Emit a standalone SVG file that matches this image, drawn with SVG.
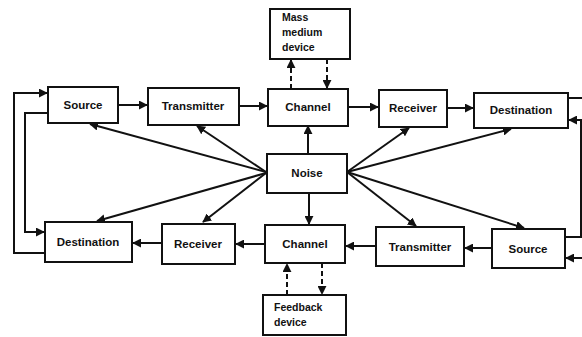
<svg xmlns="http://www.w3.org/2000/svg" width="582" height="337" viewBox="0 0 582 337">
<style>
.box{fill:#fff;stroke:#111;stroke-width:2}
.t{font-family:"Liberation Sans",Arial,sans-serif;font-size:11.5px;font-weight:bold;fill:#111;text-anchor:middle}
.tl{font-family:"Liberation Sans",Arial,sans-serif;font-size:10.5px;font-weight:bold;fill:#111}
.c{fill:none;stroke:#111;stroke-width:2}
.d{fill:none;stroke:#111;stroke-width:2;stroke-dasharray:5 3}
</style>
<defs>
<marker id="a" viewBox="0 0 10 10" refX="9" refY="5" markerWidth="4.5" markerHeight="4.5" orient="auto" markerUnits="strokeWidth">
<path d="M0,0 L10,5 L0,10 z" fill="#111"/>
</marker>
</defs>
<rect width="582" height="337" fill="#fff"/>
<g id="connectors">
<line class="c" x1="118" y1="105" x2="147" y2="105" marker-end="url(#a)"/>
<line class="c" x1="239" y1="106" x2="267" y2="106" marker-end="url(#a)"/>
<line class="c" x1="348" y1="107" x2="378" y2="107" marker-end="url(#a)"/>
<line class="c" x1="447" y1="108" x2="473" y2="108" marker-end="url(#a)"/>
<line class="c" x1="492" y1="248" x2="465" y2="248" marker-end="url(#a)"/>
<line class="c" x1="376" y1="246" x2="346" y2="246" marker-end="url(#a)"/>
<line class="c" x1="265" y1="244" x2="236" y2="244" marker-end="url(#a)"/>
<line class="c" x1="162" y1="243" x2="133" y2="243" marker-end="url(#a)"/>
<line class="d" x1="291" y1="89" x2="291" y2="60" marker-end="url(#a)"/>
<line class="d" x1="327" y1="59" x2="327" y2="88" marker-end="url(#a)"/>
<line class="d" x1="287" y1="295" x2="287" y2="264" marker-end="url(#a)"/>
<line class="d" x1="322" y1="263" x2="322" y2="294" marker-end="url(#a)"/>
<line class="c" x1="308" y1="154" x2="308" y2="126" marker-end="url(#a)"/>
<line class="c" x1="309" y1="193" x2="309" y2="224" marker-end="url(#a)"/>
<line class="c" x1="266" y1="172" x2="90" y2="124" marker-end="url(#a)"/>
<line class="c" x1="266" y1="172" x2="197" y2="126" marker-end="url(#a)"/>
<line class="c" x1="266" y1="173" x2="97" y2="221" marker-end="url(#a)"/>
<line class="c" x1="266" y1="173" x2="203" y2="222" marker-end="url(#a)"/>
<line class="c" x1="347" y1="172" x2="409" y2="128" marker-end="url(#a)"/>
<line class="c" x1="347" y1="172" x2="511" y2="129" marker-end="url(#a)"/>
<line class="c" x1="347" y1="172" x2="416" y2="226" marker-end="url(#a)"/>
<line class="c" x1="347" y1="172" x2="524" y2="228" marker-end="url(#a)"/>
<polyline class="c" points="45,253 14,253 14,93 47,93" marker-end="url(#a)"/>
<polyline class="c" points="48,113 25,113 25,232 44,232" marker-end="url(#a)"/>
<line class="c" x1="568" y1="98" x2="582" y2="98"/>
<polyline class="c" points="565,237 581,237 581,120 569,120" marker-end="url(#a)"/>
<line class="c" x1="582" y1="258" x2="566" y2="258" marker-end="url(#a)"/>
</g>
<g id="mass"><rect class="box" x="270" y="9" width="80" height="50"/>
<text class="tl" x="282" y="21">Mass</text><text class="tl" x="282" y="36">medium</text><text class="tl" x="282" y="51">device</text></g>
<g id="source1"><rect class="box" x="48" y="87" width="70" height="36"/><text class="t" x="83" y="109">Source</text></g>
<g id="transmitter1"><rect class="box" x="148" y="88" width="91" height="37"/><text class="t" x="193" y="110">Transmitter</text></g>
<g id="channel1"><rect class="box" x="268" y="89" width="80" height="37"/><text class="t" x="308" y="111">Channel</text></g>
<g id="receiver1"><rect class="box" x="379" y="90" width="68" height="37"/><text class="t" x="413" y="112">Receiver</text></g>
<g id="destination1"><rect class="box" x="474" y="93" width="94" height="35"/><text class="t" x="521" y="114">Destination</text></g>
<g id="noise"><rect class="box" x="267" y="154" width="80" height="39"/><text class="t" x="307" y="177">Noise</text></g>
<g id="destination2"><rect class="box" x="45" y="222" width="87" height="40"/><text class="t" x="88" y="246">Destination</text></g>
<g id="receiver2"><rect class="box" x="162" y="224" width="73" height="40"/><text class="t" x="198" y="248">Receiver</text></g>
<g id="channel2"><rect class="box" x="265" y="225" width="80" height="38"/><text class="t" x="305" y="248">Channel</text></g>
<g id="transmitter2"><rect class="box" x="376" y="227" width="88" height="39"/><text class="t" x="420" y="251">Transmitter</text></g>
<g id="source2"><rect class="box" x="492" y="229" width="73" height="39"/><text class="t" x="528" y="253">Source</text></g>
<g id="feedback"><rect class="box" x="263" y="295" width="83" height="40"/>
<text class="tl" x="274" y="311">Feedback</text><text class="tl" x="274" y="326">device</text></g>
</svg>
